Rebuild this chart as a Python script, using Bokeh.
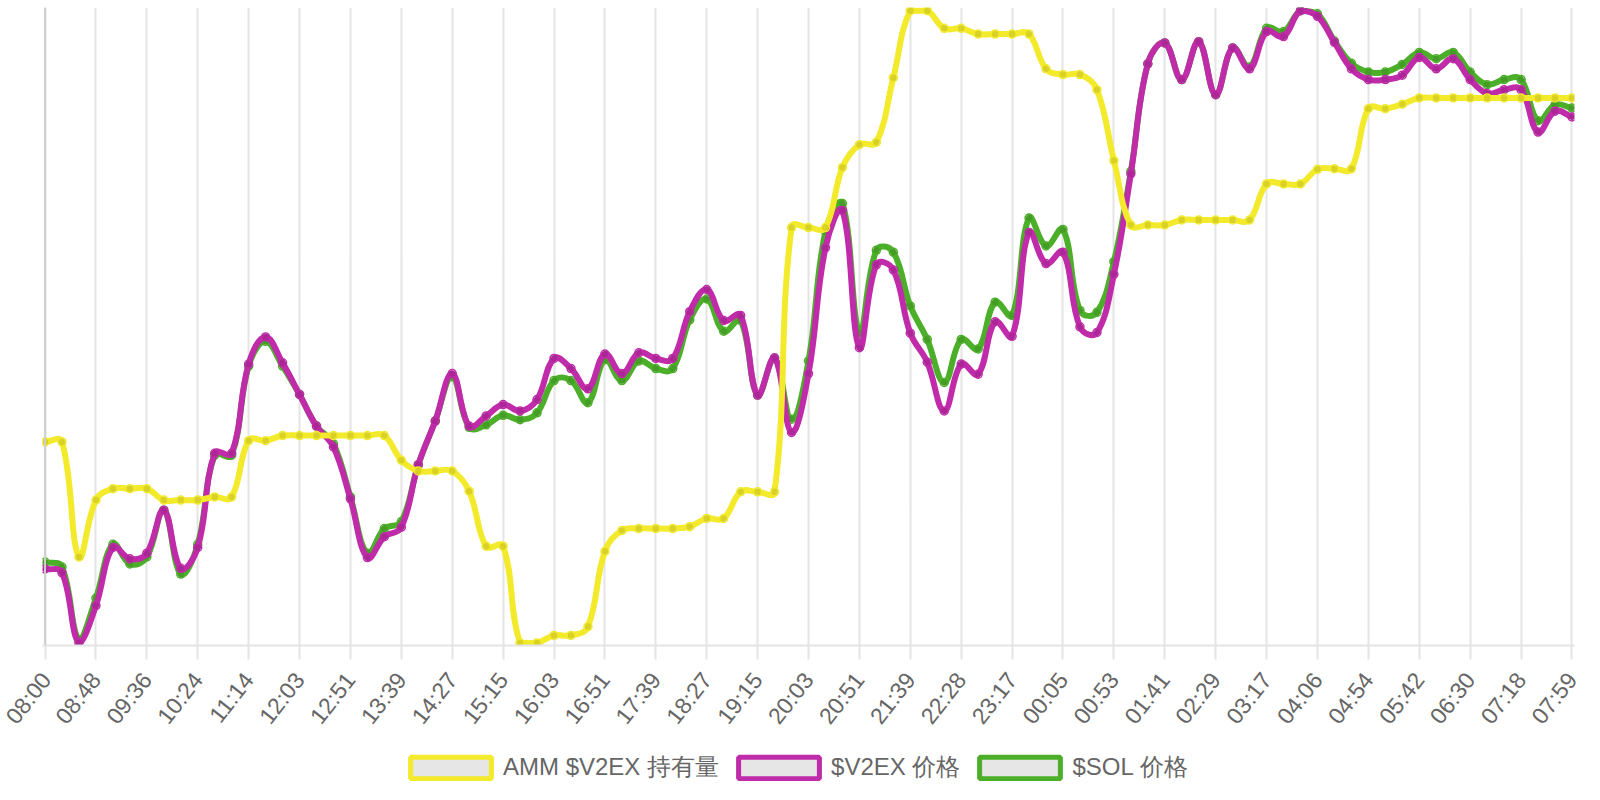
import math
import numpy as np
from bokeh.plotting import figure
from bokeh.layouts import column
from bokeh.models import (Range1d, FixedTicker, Span, Legend, LegendItem)
from bokeh.core.properties import value
from bokeh.embed import file_html
from bokeh.resources import INLINE

# ---------------- data (normalised 0-100, each series on its own hidden scale) -------------
tick_labels = ["08:00", "08:48", "09:36", "10:24", "11:14", "12:03", "12:51", "13:39",
               "14:27", "15:15", "16:03", "16:51", "17:39", "18:27", "19:15", "20:03",
               "20:51", "21:39", "22:28", "23:17", "00:05", "00:53", "01:41", "02:29",
               "03:17", "04:06", "04:54", "05:42", "06:30", "07:18", "07:59"]

amm_holding = [31.8, 31.8, 13.6, 22.6, 24.4, 24.4, 24.4, 22.6, 22.6, 22.6,
               23.1, 23.1, 32.0, 32.0, 32.8, 32.8, 32.8, 32.8, 32.8, 32.8,
               32.8, 28.9, 27.2, 27.2, 27.2, 24.0, 15.3, 15.3, 0.0, 0.0,
               1.2, 1.2, 2.6, 14.5, 17.8, 18.1, 18.1, 18.1, 18.4, 19.7,
               19.7, 23.9, 23.9, 23.9, 65.7, 65.7, 65.7, 75.2, 78.8, 79.2,
               89.4, 100.0, 100.0, 97.2, 97.2, 96.3, 96.3, 96.3, 96.3, 90.8,
               89.9, 89.9, 87.5, 76.3, 66.1, 66.1, 66.1, 66.9, 66.9, 66.9,
               66.9, 66.9, 72.6, 72.6, 72.6, 74.9, 75.0, 75.0, 84.5, 84.5,
               85.2, 86.2, 86.2, 86.2, 86.2, 86.2, 86.2, 86.2, 86.2, 86.2, 86.2]

v2ex_price = [11.7, 11.1, 0.0, 5.9, 15.1, 13.3, 14.2, 21.0, 11.8, 15.1,
              30.0, 30.0, 44.1, 48.4, 44.3, 39.3, 34.3, 31.0, 22.8, 13.5,
              16.8, 18.3, 28.2, 35.1, 42.6, 34.3, 35.9, 37.7, 36.7, 38.5,
              45.0, 43.4, 40.2, 45.7, 42.6, 45.9, 45.0, 45.0, 52.4, 55.9,
              51.0, 51.8, 39.2, 45.1, 33.3, 42.6, 62.5, 68.4, 46.7, 59.8,
              59.0, 49.0, 44.4, 36.7, 44.1, 42.5, 50.8, 48.5, 64.9, 60.0,
              61.8, 50.0, 49.1, 58.3, 74.2, 91.6, 94.9, 89.1, 95.1, 86.7,
              94.1, 90.8, 96.7, 95.9, 100.0, 99.1, 95.0, 90.8, 89.1, 89.1,
              89.8, 92.6, 90.8, 92.4, 89.1, 86.9, 87.5, 87.5, 80.8, 84.1, 83.2]

sol_price = [12.8, 12.0, 0.5, 7.1, 15.6, 12.5, 13.6, 21.0, 10.9, 15.6,
             29.7, 29.7, 43.8, 47.7, 43.8, 39.3, 34.3, 31.5, 23.1, 14.2,
             18.1, 19.2, 28.2, 35.1, 42.1, 34.1, 34.5, 36.0, 35.3, 36.4,
             41.5, 41.5, 38.0, 44.8, 41.5, 44.6, 43.4, 43.4, 51.1, 54.4,
             49.3, 51.0, 39.2, 45.0, 35.4, 44.6, 65.1, 69.5, 49.0, 62.1,
             61.8, 53.3, 48.0, 41.2, 48.0, 46.5, 53.9, 51.8, 67.2, 62.8,
             65.4, 52.6, 52.3, 60.3, 74.6, 91.6, 94.9, 89.1, 95.1, 86.7,
             94.1, 91.1, 97.2, 96.7, 100.0, 99.5, 95.2, 91.7, 90.3, 90.3,
             91.5, 93.4, 92.4, 93.4, 90.3, 88.3, 89.1, 89.1, 82.6, 85.1, 84.6]

series_names = ["AMM $V2EX 持有量", "$V2EX 价格", "$SOL 价格"]
series_colors = ["#f2ea2a", "#c02ba9", "#4caf29"]

n_points = len(amm_holding)
x_idx = list(range(n_points))

# ---------------- main chart -------------
p = figure(width=1600, height=745, output_backend="svg", toolbar_location=None,
           x_range=Range1d(-0.15, n_points - 1 + 0.15), y_range=Range1d(-0.4, 100.5),
           min_border_left=42, min_border_right=26, min_border_top=7, min_border_bottom=100)
p.outline_line_color = None
p.background_fill_color = "white"
p.yaxis.visible = False
p.ygrid.visible = False

ticks = list(range(0, n_points, 3))
p.xaxis.ticker = FixedTicker(ticks=ticks)
p.xaxis.major_label_overrides = {t: lbl for t, lbl in zip(ticks, tick_labels)}
p.xaxis.major_label_orientation = math.radians(52)
p.xaxis.major_label_text_font = "Liberation Sans"
p.xaxis.major_label_text_font_size = "23px"
p.xaxis.major_label_text_color = "#666666"
p.xaxis.major_label_standoff = 16
p.xaxis.major_tick_out = 14
p.xaxis.major_tick_in = 0
p.xaxis.major_tick_line_color = "#e4e4e4"
p.xaxis.major_tick_line_width = 2
p.xaxis.minor_tick_line_color = None
p.xaxis.axis_line_color = "#e4e4e4"
p.xaxis.axis_line_width = 2
p.xgrid.grid_line_color = "#e4e4e4"
p.xgrid.grid_line_width = 2

p.add_layout(Span(location=0, dimension="height", line_color="#cfcfcf", line_width=2))

# Chart.js-like spline (tension 0.4), control points computed from the data
XS, YS = 16.96, 5.06


def spline_segments(vals, t=0.4):
    n = len(vals)
    xs = np.arange(n, dtype=float)
    ys = np.array(vals, dtype=float)
    px, py = xs * XS, ys * YS
    pcx, pcy, ncx, ncy = (np.zeros(n) for _ in range(4))
    for i in range(n):
        a, b = max(i - 1, 0), min(i + 1, n - 1)
        d01 = math.hypot(px[i] - px[a], py[i] - py[a])
        d12 = math.hypot(px[b] - px[i], py[b] - py[i])
        s = d01 + d12
        s01 = d01 / s if s else 0.0
        s12 = d12 / s if s else 0.0
        fa, fb = t * s01, t * s12
        dx, dy = px[b] - px[a], py[b] - py[a]
        pcx[i], pcy[i] = px[i] - fa * dx, py[i] - fa * dy
        ncx[i], ncy[i] = px[i] + fb * dx, py[i] + fb * dy
    lo, hi = min(vals) * YS, max(vals) * YS
    pcy, ncy = np.clip(pcy, lo, hi), np.clip(ncy, lo, hi)
    pcx, ncx = np.clip(pcx, 0, (n - 1) * XS), np.clip(ncx, 0, (n - 1) * XS)
    return dict(x0=xs[:-1], y0=ys[:-1], x1=xs[1:], y1=ys[1:],
                cx0=ncx[:-1] / XS, cy0=ncy[:-1] / YS,
                cx1=pcx[1:] / XS, cy1=pcy[1:] / YS)


all_series = [amm_holding, v2ex_price, sol_price]
# Chart.js draws the last dataset first
for vals, color in reversed(list(zip(all_series, series_colors))):
    seg = spline_segments(vals)
    p.bezier(x0=seg["x0"], y0=seg["y0"], x1=seg["x1"], y1=seg["y1"],
             cx0=seg["cx0"], cy0=seg["cy0"], cx1=seg["cx1"], cy1=seg["cy1"],
             line_color=color, line_width=6, line_cap="round")
    p.scatter(x_idx, vals, size=8, marker="circle", fill_color="black", fill_alpha=0.1,
              line_color=color, line_width=1.5)

# ---------------- legend strip below the chart -------------
lf = figure(width=1600, height=55, output_backend="svg", toolbar_location=None,
            x_range=Range1d(0, 1), y_range=Range1d(0, 1), min_border=0)
lf.outline_line_color = None
lf.axis.visible = False
lf.grid.visible = False

items = []
for name, color in zip(series_names, series_colors):
    # swatch renderer placed outside the visible range; only its legend icon shows
    r = lf.quad(left=[5], right=[6], top=[6], bottom=[5], fill_color="#e6e6e6",
                line_color=color, line_width=5)
    items.append(LegendItem(label=value(name), renderers=[r]))

legend = Legend(items=items, orientation="horizontal", location=(358, 17),
                glyph_width=101, glyph_height=27, label_standoff=2, spacing=9,
                padding=0, margin=0, border_line_color=None, background_fill_alpha=0,
                label_text_font="Liberation Sans", label_text_font_size="24px",
                label_text_color="#666666")
lf.add_layout(legend)

layout = column(p, lf, spacing=0)
open("out.html", "w").write(file_html(layout, INLINE))
